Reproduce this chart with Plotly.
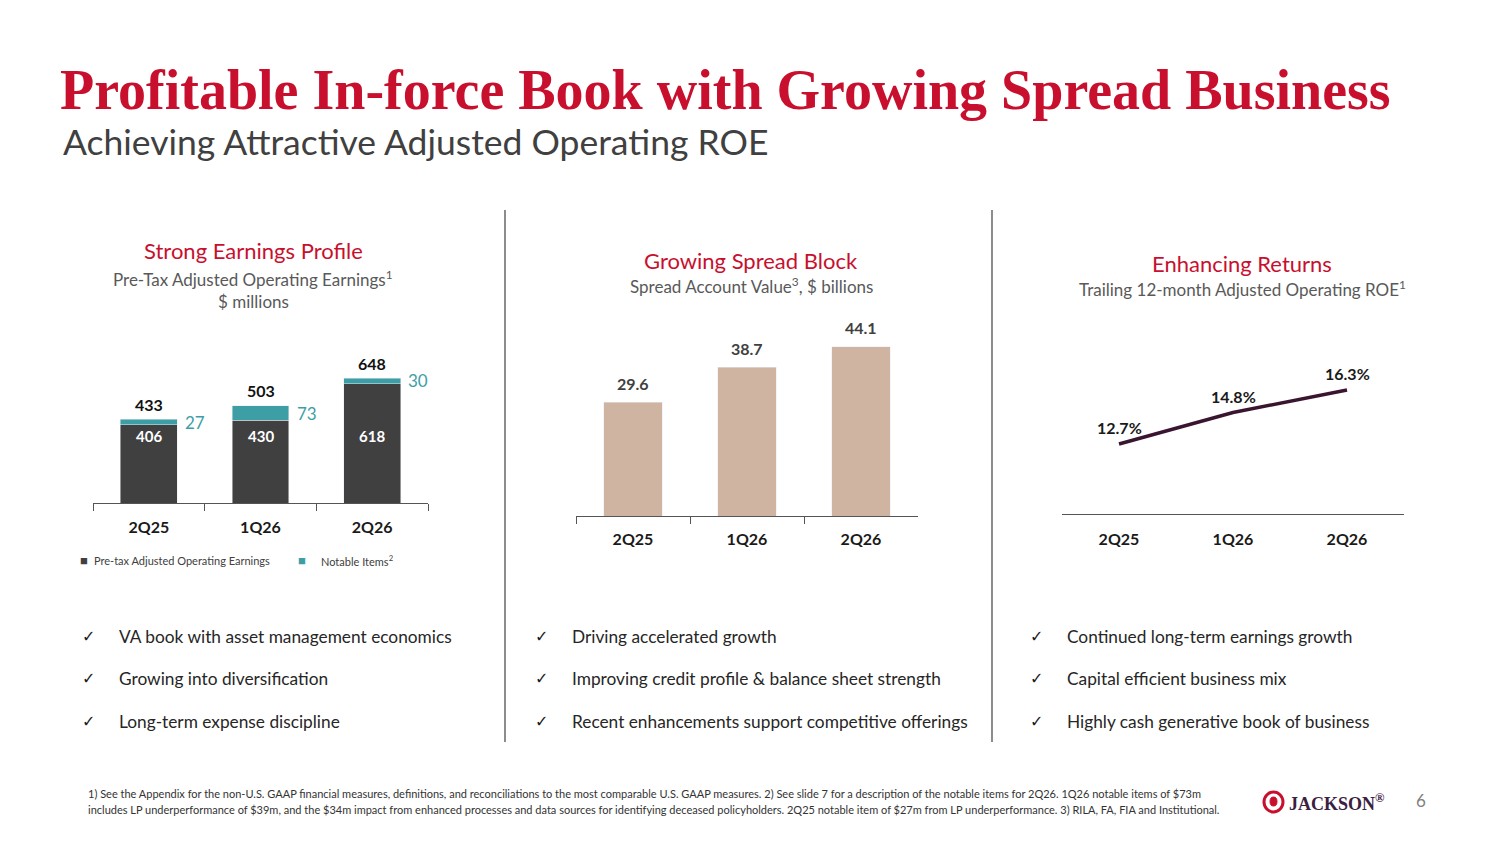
import plotly.graph_objects as go

# ---- data ----
quarters = ["2Q25", "1Q26", "2Q26"]
pretax_earnings = [406, 430, 618]
notable_items = [27, 73, 30]
total_earnings = [433, 503, 648]
spread_account_value = [29.6, 38.7, 44.1]
roe_pct = [12.7, 14.8, 16.3]

bullets_left = ["VA book with asset management economics",
                "Growing into diversification",
                "Long-term expense discipline"]
bullets_mid = ["Driving accelerated growth",
               "Improving credit profile & balance sheet strength",
               "Recent enhancements support competitive offerings"]
bullets_right = ["Continued long-term earnings growth",
                 "Capital efficient business mix",
                 "Highly cash generative book of business"]

footnote_lines = [
    "1) See the Appendix for the non-U.S. GAAP financial measures, definitions, and reconciliations to the most comparable U.S. GAAP measures. "
    "2) See slide 7 for a description of the notable items for 2Q26. 1Q26 notable items of $73m",
    "includes LP underperformance of $39m, and the $34m impact from enhanced processes and data sources for identifying deceased policyholders. "
    "2Q25 notable item of $27m from LP underperformance. 3) RILA, FA, FIA and Institutional.",
]

# the page body has an 8px margin, so the figure is a bit smaller and offset
PAD = 8
W, H = 1484, 828
RED = "#c8102e"
DARK = "#404040"
TEAL = "#3d9ea6"
TAN = "#cfb4a2"
PLUM = "#3a1530"
FONT = "Lato"


def X(p):
    return (p - PAD) / W


def Y(p):
    return 1 - (p - PAD) / H


fig = go.Figure()

# chart 1: stacked earnings
fig.add_trace(go.Bar(x=quarters, y=pretax_earnings, marker_color=DARK,
                     xaxis="x", yaxis="y", showlegend=False, hoverinfo="skip"))
fig.add_trace(go.Bar(x=quarters, y=notable_items, marker_color=TEAL,
                     xaxis="x", yaxis="y", showlegend=False, hoverinfo="skip"))

# chart 2: spread account value
fig.add_trace(go.Bar(x=quarters, y=spread_account_value, marker_color=TAN,
                     xaxis="x2", yaxis="y2", showlegend=False, hoverinfo="skip"))

# chart 3: ROE line
fig.add_trace(go.Scatter(x=quarters, y=roe_pct, mode="lines",
                         line=dict(color=PLUM, width=3.5),
                         xaxis="x3", yaxis="y3", showlegend=False, hoverinfo="skip"))

ann = []

for q, base, nb, tot in zip(quarters, pretax_earnings, notable_items, total_earnings):
    ann.append(dict(x=q, y=tot, xref="x", yref="y", text=str(tot), showarrow=False,
                    yanchor="middle", yshift=15,
                    font=dict(family=FONT, size=16, color="#111111", weight="bold")))
    ann.append(dict(x=q, y=345, xref="x", yref="y", text=str(base), showarrow=False,
                    yanchor="middle",
                    font=dict(family=FONT, size=15, color="white", weight="bold")))
    ann.append(dict(x=q, y=base + nb / 2, xref="x", yref="y", text=str(nb), showarrow=False,
                    xanchor="left", yanchor="middle", xshift=34,
                    font=dict(family=FONT, size=17, color=TEAL)))

for q, v in zip(quarters, spread_account_value):
    ann.append(dict(x=q, y=v, xref="x2", yref="y2", text=f"{v:.1f}", showarrow=False,
                    yanchor="middle", yshift=19,
                    font=dict(family=FONT, size=16, color=DARK, weight="bold")))

for q, v in zip(quarters, roe_pct):
    ann.append(dict(x=q, y=v, xref="x3", yref="y3", text=f"{v:.1f}%", showarrow=False,
                    yanchor="middle", yshift=16,
                    font=dict(family=FONT, size=16, color="#1a1a1a", weight="bold")))


def txt(x, y, text, size, color, anchor="center", family=FONT, weight="normal"):
    ann.append(dict(x=X(x), y=Y(y), xref="paper", yref="paper", text=text, showarrow=False,
                    xanchor=anchor, yanchor="middle",
                    font=dict(family=family, size=size, color=color, weight=weight)))


# page title
txt(58, 90, "Profitable In-force Book with Growing Spread Business", 56, RED,
    anchor="left", family="Liberation Serif", weight="bold")
txt(61, 141, "Achieving Attractive Adjusted Operating ROE", 35.5, DARK, anchor="left")

# section headers
txt(253, 251, "Strong Earnings Profile", 22, RED)
txt(253, 278, "Pre-Tax Adjusted Operating Earnings<sup>1</sup>", 17, "#595959")
txt(253, 301, "$ millions", 17, "#595959")
txt(751, 260, "Growing Spread Block", 22, RED)
txt(751, 286, "Spread Account Value<sup>3</sup>, $ billions", 17, "#595959")
txt(1242, 263, "Enhancing Returns", 22, RED)
txt(1242, 289, "Trailing 12-month Adjusted Operating ROE<sup>1</sup>", 17, "#595959")

# legend for chart 1
txt(84, 560, "■", 13, DARK)
txt(92, 560, "Pre-tax Adjusted Operating Earnings", 11, DARK, anchor="left")
txt(302, 560, "■", 13, TEAL)
txt(319, 560, "Notable Items<sup>2</sup>", 11, DARK, anchor="left")

# bullets
for col_x, items in ((88, bullets_left), (541, bullets_mid), (1036, bullets_right)):
    for i, item in enumerate(items):
        yy = [636, 678, 721][i]
        txt(col_x, yy, "✓", 16, "#1a1a1a", family="DejaVu Sans")
        txt(col_x + 29, yy, item, 17.3, "#262626", anchor="left")

# footnotes
txt(86, 793, footnote_lines[0], 11, "#333333", anchor="left")
txt(86, 809, footnote_lines[1], 11, "#333333", anchor="left")

# logo + page number
txt(1287, 802, "JACKSON<sup>®</sup>", 18, "#3b2040", anchor="left", family="Liberation Serif",
    weight="bold")
txt(1421, 800, "6", 17, "#808080")

shapes = [
    dict(type="line", xref="paper", yref="paper", x0=X(505), x1=X(505), y0=Y(210), y1=Y(742),
         line=dict(color="#404040", width=1.2)),
    dict(type="line", xref="paper", yref="paper", x0=X(992), x1=X(992), y0=Y(210), y1=Y(742),
         line=dict(color="#404040", width=1.2)),
    dict(type="circle", xref="paper", yref="paper", x0=X(1264), x1=X(1283), y0=Y(812), y1=Y(792),
         line=dict(color=RED, width=3)),
    dict(type="circle", xref="paper", yref="paper", x0=X(1270), x1=X(1277), y0=Y(806), y1=Y(797),
         fillcolor=RED, line=dict(color=RED, width=1)),
]

axis_common = dict(showgrid=False, zeroline=False, showline=True, linecolor="#555555",
                   linewidth=1.2, fixedrange=True, range=[-0.5, 2.5],
                   tickfont=dict(family=FONT, size=16, color="#1a1a1a", weight="bold"))

fig.update_layout(
    width=W, height=H,
    margin=dict(l=0, r=0, t=0, b=0),
    paper_bgcolor="white", plot_bgcolor="white",
    barmode="stack", bargap=0.49,
    showlegend=False,
    xaxis=dict(domain=[X(93), X(428)], anchor="y", ticks="outside", tickson="boundaries",
               ticklen=7, tickcolor="#555555", ticklabelstandoff=10, **axis_common),
    yaxis=dict(domain=[Y(503), Y(340)], range=[0, 845], visible=False, fixedrange=True),
    xaxis2=dict(domain=[X(576), X(918)], anchor="y2", ticks="outside", tickson="boundaries",
                ticklen=7, tickcolor="#555555", ticklabelstandoff=9, **axis_common),
    yaxis2=dict(domain=[Y(516), Y(320)], range=[0, 51], visible=False, fixedrange=True),
    xaxis3=dict(domain=[X(1062), X(1404)], anchor="y3", ticks="", ticklabelstandoff=11,
                **axis_common),
    yaxis3=dict(domain=[Y(514), Y(330)], range=[8.03, 20.3], visible=False, fixedrange=True),
    annotations=ann,
    shapes=shapes,
)

fig.write_html("out.html")
